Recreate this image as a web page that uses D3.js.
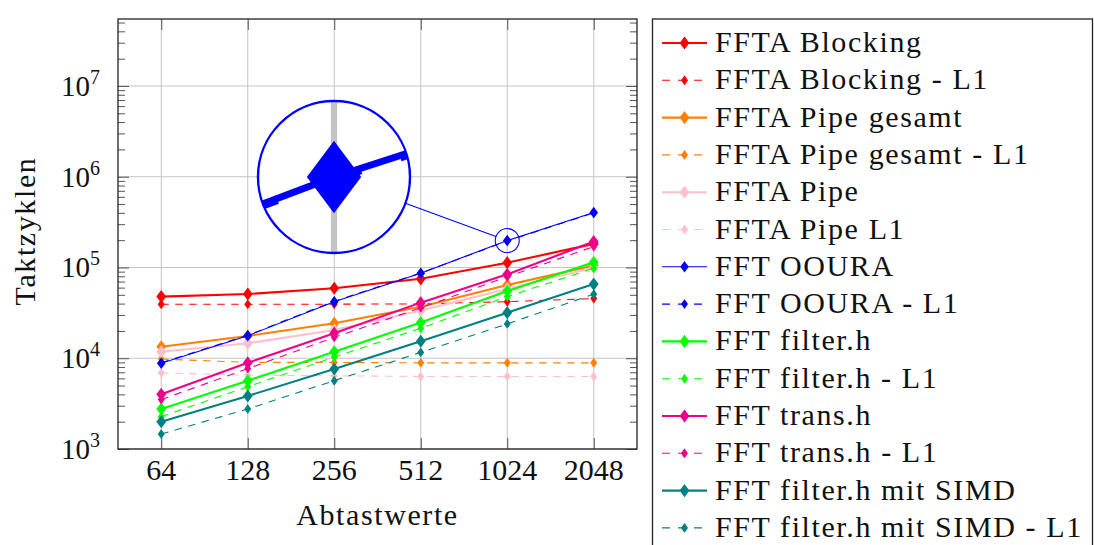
<!DOCTYPE html>
<html>
<head>
<meta charset="utf-8">
<script src="https://cdn.jsdelivr.net/npm/d3@7"></script>
<style>
body { margin: 0; background: #fff; }
svg text { font-family: "Liberation Serif", "DejaVu Serif", serif; fill: #111; }
</style>
</head>
<body>
<script>
// sample counts on the x axis
var samples = [64, 128, 256, 512, 1024, 2048];
var yDecades = [1e3, 1e4, 1e5, 1e6, 1e7];

// clock cycles per variant
var fftaBlocking     = [47800, 51000, 59000, 75000, 113000, 182000];
var fftaBlockingL1   = [39400, 39400, 39400, 39700, 42000, 45500];
var fftaPipeGesamt   = [13400, 17600, 24300, 37000, 64000, 105000];
var fftaPipeGesamtL1 = [9800, 9000, 9000, 8900, 8900, 8900];
var fftaPipe         = [11800, 14600, 20500, 33500, 58000, 100000];
var fftaPipeL1       = [6900, 6500, 6400, 6300, 6300, 6300];
var fftOoura         = [8800, 17700, 42000, 86500, 198000, 403000];
var fftOouraL1       = [8900, 17900, 42500, 87000, 196000, 400000];
var fftFilter        = [2760, 5660, 11800, 24700, 55000, 114000];
var fftFilterL1      = [2270, 4860, 10300, 21400, 47800, 98000];
var fftTrans         = [4000, 8900, 18900, 41000, 84000, 193000];
var fftTransL1       = [3500, 7700, 17000, 35900, 79000, 170000];
var fftSimd          = [2000, 3840, 7600, 15400, 31800, 65600];
var fftSimdL1        = [1460, 2760, 5660, 11600, 23900, 50800];

var series = [
  {name: "FFTA Blocking",               values: fftaBlocking,     color: "#ff0000", dashed: false},
  {name: "FFTA Blocking - L1",          values: fftaBlockingL1,   color: "#ff0000", dashed: true},
  {name: "FFTA Pipe gesamt",            values: fftaPipeGesamt,   color: "#ff8000", dashed: false},
  {name: "FFTA Pipe gesamt - L1",       values: fftaPipeGesamtL1, color: "#ff8000", dashed: true},
  {name: "FFTA Pipe",                   values: fftaPipe,         color: "#ffc0cb", dashed: false},
  {name: "FFTA Pipe L1",                values: fftaPipeL1,       color: "#ffc0cb", dashed: true},
  {name: "FFT OOURA",                   values: fftOoura,         color: "#0000ff", dashed: false, thin: true},
  {name: "FFT OOURA - L1",              values: fftOouraL1,       color: "#0000ff", dashed: true},
  {name: "FFT filter.h",                values: fftFilter,        color: "#00ff00", dashed: false},
  {name: "FFT filter.h - L1",           values: fftFilterL1,      color: "#00ff00", dashed: true},
  {name: "FFT trans.h",                 values: fftTrans,         color: "#ec008c", dashed: false},
  {name: "FFT trans.h - L1",            values: fftTransL1,       color: "#ec008c", dashed: true},
  {name: "FFT filter.h mit SIMD",       values: fftSimd,          color: "#008080", dashed: false},
  {name: "FFT filter.h mit SIMD - L1",  values: fftSimdL1,        color: "#008080", dashed: true}
];

var W = 1094, H = 545;
var plot = {left: 118, right: 637, top: 19, bottom: 449};

var svg = d3.select("body").append("svg").attr("width", W).attr("height", H);

// log2 x axis with half a step of padding, log10 y axis
var x = d3.scaleLog().base(2).domain([64 / Math.SQRT2, 2048 * Math.SQRT2]).range([plot.left, plot.right]);
var y = d3.scaleLog().domain([1e3, Math.pow(10, 7.738)]).range([plot.bottom, plot.top]);

var line = d3.line()
  .x(function(d, i){ return x(samples[i]); })
  .y(function(d){ return y(d); });

function diamond(big) {
  var hh = big ? 4.8 : 4, hw = big ? 3.6 : 2.8;
  return "M0," + (-hh) + "L" + hw + ",0L0," + hh + "L" + (-hw) + ",0Z";
}
function lineWidth(s) { return (s.dashed || s.thin) ? 1.1 : 2.1; }

// grid + all series; used for the main plot and again for the magnifier
function drawPlot(g) {
  g.append("g").selectAll("line").data(samples).enter().append("line")
    .attr("x1", function(d){ return x(d); }).attr("x2", function(d){ return x(d); })
    .attr("y1", plot.top).attr("y2", plot.bottom)
    .attr("stroke", "#c4c4c4").attr("stroke-width", 1);
  g.append("g").selectAll("line").data(yDecades).enter().append("line")
    .attr("x1", plot.left).attr("x2", plot.right)
    .attr("y1", function(d){ return y(d); }).attr("y2", function(d){ return y(d); })
    .attr("stroke", "#c4c4c4").attr("stroke-width", 1);

  series.forEach(function(s) {
    g.append("path").attr("d", line(s.values))
      .attr("fill", "none").attr("stroke", s.color)
      .attr("stroke-width", lineWidth(s))
      .attr("stroke-dasharray", s.dashed ? "7.5,6.5" : null);
    g.append("g").selectAll("path").data(s.values).enter().append("path")
      .attr("d", diamond(!s.dashed))
      .attr("transform", function(d, i){ return "translate(" + x(samples[i]) + "," + y(d) + ")"; })
      .attr("fill", s.color).attr("stroke", s.color)
      .attr("stroke-width", lineWidth(s)).attr("stroke-linejoin", "miter");
  });
}

drawPlot(svg.append("g"));

// ticks (inside, on all sides)
var minor = [];
for (var e = 3; e <= 7; e++) for (var m = 2; m <= 9; m++) {
  var v = m * Math.pow(10, e);
  if (v <= y.domain()[1]) minor.push(v);
}
var tickColor = "#555";
[[d3.axisLeft, plot.left], [d3.axisRight, plot.right]].forEach(function(a) {
  var gm = svg.append("g").attr("transform", "translate(" + a[1] + ",0)")
    .call(a[0](y).tickValues(minor).tickSize(-7).tickFormat(""));
  gm.select(".domain").remove();
  gm.selectAll("line").attr("stroke", tickColor);
  var gM = svg.append("g").attr("transform", "translate(" + a[1] + ",0)")
    .call(a[0](y).tickValues(yDecades).tickSize(-11).tickFormat(""));
  gM.select(".domain").remove();
  gM.selectAll("line").attr("stroke", tickColor);
});
[[d3.axisBottom, plot.bottom], [d3.axisTop, plot.top]].forEach(function(a) {
  var gx = svg.append("g").attr("transform", "translate(0," + a[1] + ")")
    .call(a[0](x).tickValues(samples).tickSize(-11).tickFormat(""));
  gx.select(".domain").remove();
  gx.selectAll("line").attr("stroke", tickColor);
});

// tick labels
svg.append("g").selectAll("text").data(samples).enter().append("text")
  .attr("x", function(d){ return x(d); }).attr("y", 480)
  .attr("text-anchor", "middle").attr("font-size", 30)
  .text(function(d){ return d; });

var yl = svg.append("g").selectAll("text").data(yDecades).enter().append("text")
  .attr("x", 100).attr("y", function(d){ return y(d) + 10; })
  .attr("text-anchor", "end").attr("font-size", 29);
yl.append("tspan").text("10");
yl.append("tspan").attr("font-size", 20).attr("dy", -12)
  .text(function(d){ return Math.round(Math.log10(d)); });

// axis labels
svg.append("text").attr("x", (plot.left + plot.right) / 2).attr("y", 525)
  .attr("text-anchor", "middle").attr("font-size", 30).attr("letter-spacing", 1.6)
  .text("Abtastwerte");
svg.append("text").attr("transform", "translate(35,231) rotate(-90)")
  .attr("text-anchor", "middle").attr("font-size", 30).attr("letter-spacing", 1.6)
  .text("Taktzyklen");

// axis frame
svg.append("rect").attr("x", plot.left).attr("y", plot.top)
  .attr("width", plot.right - plot.left).attr("height", plot.bottom - plot.top)
  .attr("fill", "none").attr("stroke", "#222").attr("stroke-width", 1.3);

// magnifier around the OOURA point at 1024
var spot = {x: x(1024), y: y(fftOoura[4]), r: 12};
var lens = {x: 334, y: 177, r: 76};
var mag = lens.r / spot.r;

svg.append("defs").append("clipPath").attr("id", "spy")
  .append("circle").attr("cx", lens.x).attr("cy", lens.y).attr("r", lens.r);
var lg = svg.append("g").attr("clip-path", "url(#spy)");
lg.append("circle").attr("cx", lens.x).attr("cy", lens.y).attr("r", lens.r).attr("fill", "#fff");
drawPlot(lg.append("g").attr("transform",
  "translate(" + lens.x + "," + lens.y + ") scale(" + mag + ") translate(" + (-spot.x) + "," + (-spot.y) + ")"));

var dx = spot.x - lens.x, dy = spot.y - lens.y, dist = Math.sqrt(dx * dx + dy * dy);
svg.append("line")
  .attr("x1", lens.x + dx / dist * lens.r).attr("y1", lens.y + dy / dist * lens.r)
  .attr("x2", spot.x - dx / dist * spot.r).attr("y2", spot.y - dy / dist * spot.r)
  .attr("stroke", "#0000ff").attr("stroke-width", 1.1);
svg.append("circle").attr("cx", spot.x).attr("cy", spot.y).attr("r", spot.r)
  .attr("fill", "none").attr("stroke", "#0000ff").attr("stroke-width", 1.1);
svg.append("circle").attr("cx", lens.x).attr("cy", lens.y).attr("r", lens.r)
  .attr("fill", "none").attr("stroke", "#0000ff").attr("stroke-width", 2.4);

// legend
var legend = {x: 652.5, y: 19, row: 37.3, first: 43};
svg.append("rect").attr("x", legend.x).attr("y", legend.y)
  .attr("width", 440).attr("height", 600)
  .attr("fill", "#fff").attr("stroke", "#222").attr("stroke-width", 1.3);

var rows = svg.append("g").selectAll("g").data(series).enter().append("g")
  .attr("transform", function(d, i){ return "translate(0," + (legend.first + i * legend.row) + ")"; });
rows.append("line").attr("x1", 662).attr("x2", 707).attr("y1", 0).attr("y2", 0)
  .attr("stroke", function(d){ return d.color; })
  .attr("stroke-width", function(d){ return lineWidth(d); })
  .attr("stroke-dasharray", function(d){ return d.dashed ? "8,8" : null; });
rows.append("path").attr("d", function(d){ return diamond(!d.dashed); })
  .attr("transform", "translate(684.5,0)")
  .attr("fill", function(d){ return d.color; }).attr("stroke", function(d){ return d.color; })
  .attr("stroke-width", function(d){ return lineWidth(d); });
rows.append("text").attr("x", 715).attr("y", 9).attr("font-size", 30)
  .attr("letter-spacing", 1.6)
  .text(function(d){ return d.name; });
</script>
</body>
</html>
